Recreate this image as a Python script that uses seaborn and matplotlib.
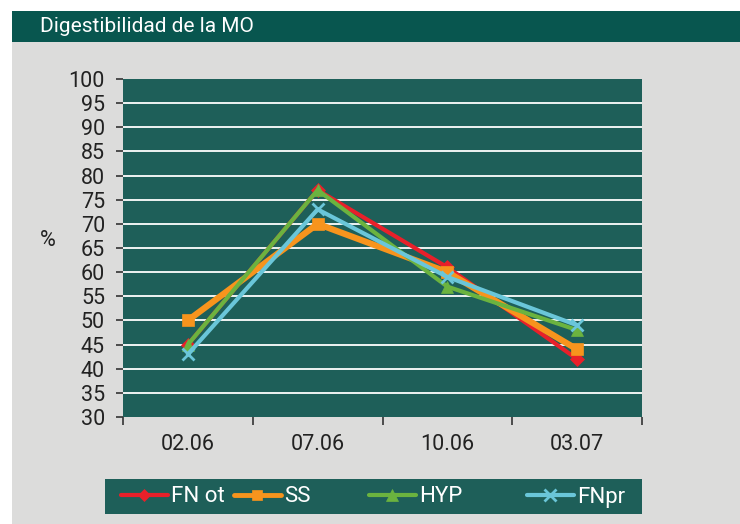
import matplotlib
matplotlib.use("Agg")
import matplotlib.pyplot as plt
import seaborn as sns
import pandas as pd
from matplotlib.patches import Rectangle
from matplotlib.lines import Line2D

categories = ["02.06", "07.06", "10.06", "03.07"]
fn_ot = [45, 77, 61, 42]
ss = [50, 70, 60, 44]
hyp = [45, 77, 57, 48]
fnpr = [43, 73, 59, 49]
series_names = ["FN ot", "SS", "HYP", "FNpr"]
yticks = list(range(30, 101, 5))

sns.set_theme(style="white")
plt.rcParams["font.family"] = ["Roboto", "DejaVu Sans"]

W, H = 740, 524
fig = plt.figure(figsize=(7.4, 5.24), dpi=100)
fig.patch.set_facecolor("white")

def fx(x): return x / W
def fy(y): return 1 - y / H

# grey panel and title bar
fig.patches.append(Rectangle((fx(12), 0), 1 - fx(12), fy(42), transform=fig.transFigure,
                             facecolor="#dcdcdb", edgecolor="none", zorder=-2))
fig.patches.append(Rectangle((fx(12), fy(42)), 1 - fx(12), fy(11) - fy(42), transform=fig.transFigure,
                             facecolor="#08564f", edgecolor="none", zorder=-2))
fig.text(fx(40), fy(27), "Digestibilidad de la MO", color="white", fontsize=15,
         family=["Roboto", "DejaVu Sans"], va="center", ha="left")

# plot area
left, right, top, bottom = 123, 642, 79, 417
ax = fig.add_axes([fx(left), fy(bottom), fx(right) - fx(left), fy(top) - fy(bottom)])
ax.set_facecolor("#1e5f59")

df = pd.DataFrame({"cat": categories * 4,
                   "val": fn_ot + ss + hyp + fnpr,
                   "series": sum([[n] * 4 for n in series_names], [])})
df["x"] = df.groupby("series").cumcount()

styles = {
    "FN ot": dict(color="#e8202a", marker="D", lw=3, ms=7),
    "SS": dict(color="#f7941d", marker="s", lw=4.5, ms=8),
    "HYP": dict(color="#6bb33f", marker="^", lw=3, ms=9),
    "FNpr": dict(color="#6ac6d9", marker="x", lw=3, ms=9),
}
for i, name in enumerate(series_names):
    st = styles[name]
    sub = df[df.series == name]
    sns.lineplot(data=sub, x="x", y="val", ax=ax, color=st["color"], lw=st["lw"],
                 marker=st["marker"], markersize=st["ms"], markeredgecolor=st["color"],
                 markeredgewidth=2 if st["marker"] == "x" else 0.5, zorder=3 + i, legend=False)

ax.set_xlim(-0.5, 3.5)
ax.set_ylim(30, 100)
ax.set_yticks(yticks)
ax.set_yticklabels([str(v) for v in yticks], fontsize=15.5, color="#222222")
for v in yticks[1:-1]:
    ax.axhline(v, color="white", lw=1.3, zorder=1)
ax.set_xticks(range(4))
ax.set_xticklabels(categories, fontsize=15.5, color="#222222")
ax.set_xticks([-0.5, 0.5, 1.5, 2.5, 3.5], minor=True)
ax.tick_params(axis="x", which="major", length=0, pad=12)
ax.tick_params(axis="x", which="minor", length=6, width=1.2, color="#333333", direction="out", bottom=True)
ax.tick_params(axis="y", length=5, width=1.2, color="#333333", direction="out", left=True, pad=8)
ax.set_xlabel("")
ax.set_ylabel("")
for s in ax.spines.values():
    s.set_visible(False)
fig.text(fx(48), fy(241), "%", fontsize=15.5, color="#222222", ha="center", va="center")

# legend box
fig.patches.append(Rectangle((fx(105), fy(514)), fx(642) - fx(105), fy(479) - fy(514),
                             transform=fig.transFigure, facecolor="#1e5f59", edgecolor="none", zorder=-1))
leg_x = [121, 234, 369, 527]
for i, name in enumerate(series_names):
    st = styles[name]
    h = Line2D([], [], color=st["color"], lw=st["lw"] if name != "SS" else 3.5, marker=st["marker"],
               markersize=st["ms"] - 1, markeredgecolor=st["color"],
               markeredgewidth=2 if st["marker"] == "x" else 0.5)
    lg = fig.legend(handles=[h], labels=[name], loc="center left",
                    bbox_to_anchor=(fx(leg_x[i]), fy(497)), frameon=False,
                    handlelength=2.1, handletextpad=0.15, borderpad=0, borderaxespad=0,
                    prop={"size": 16})
    for t in lg.get_texts():
        t.set_color("white")

fig.savefig("out.png", dpi=100)
